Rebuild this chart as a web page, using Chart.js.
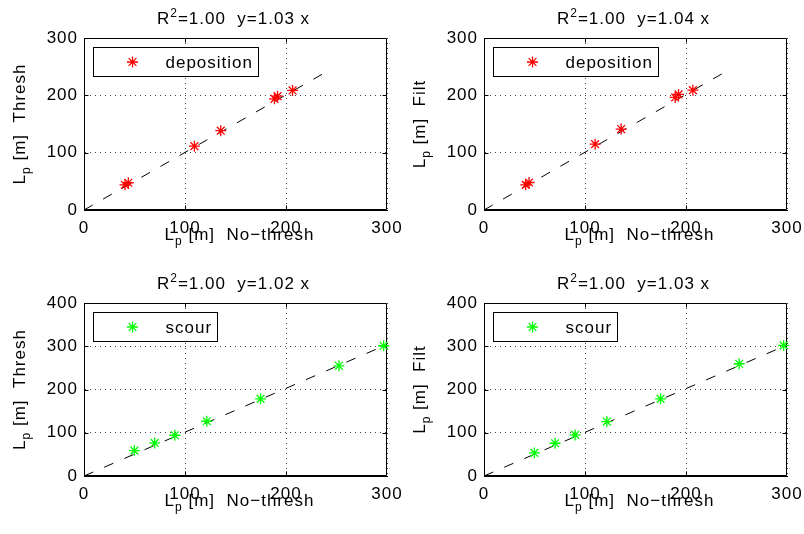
<!DOCTYPE html>
<html><head><meta charset="utf-8">
<script src="https://cdn.jsdelivr.net/npm/chart.js@4.4.1/dist/chart.umd.min.js"></script>
<style>
html,body{margin:0;padding:0;background:#fff;}
#wrap{position:relative;width:804px;height:534px;overflow:hidden;background:#fff;}
.cell{position:absolute;width:402px;height:267px;}
canvas{display:block;}
</style></head><body>
<div id="wrap">
<div class="cell" style="left:0;top:0"><canvas id="c1" width="402" height="267"></canvas></div>
<div class="cell" style="left:400px;top:0"><canvas id="c2" width="402" height="267"></canvas></div>
<div class="cell" style="left:0;top:267px"><canvas id="c3" width="402" height="267"></canvas></div>
<div class="cell" style="left:400px;top:267px"><canvas id="c4" width="402" height="267"></canvas></div>
</div>
<script>
// ---- data ----
const depThreshX = [40.6, 43.9, 109.3, 135.4, 188.6, 191.6, 206.5];
const depThreshY = [43.9, 47.5, 111.3, 138.3, 193.9, 198.6, 208.5];
const depFiltX   = [41.3, 44.6, 110.0, 135.8, 189.3, 192.6, 206.8];
const depFiltY   = [43.9, 48.0, 114.8, 141.2, 196.3, 201.5, 209.0];
const scourThreshX = [49.9, 70.0, 89.9, 121.6, 174.8, 252.4, 296.7];
const scourThreshY = [58.7, 76.4, 94.2, 126.6, 178.4, 254.8, 301.2];
const scourFiltX   = [49.9, 70.4, 90.2, 121.6, 174.8, 252.7, 296.7];
const scourFiltY   = [53.3, 75.7, 95.0, 125.9, 178.4, 259.5, 301.9];
// fit lines: start and end points [x0, y0, x1, y1]
const fitDepThresh   = [0, 0, 243, 244];
const fitDepFilt     = [0, 0, 243, 245];
const fitScourThresh = [0, 0, 300, 304];
const fitScourFilt   = [0, 0, 300, 303];
const titleTexts = ["=1.00  y=1.03 x", "=1.00  y=1.04 x", "=1.00  y=1.02 x", "=1.00  y=1.03 x"];
const yLabelSuffix = ["Thresh", "Filt", "Thresh", "Filt"];
const xLabelSuffix = "No\u2212thresh";
const seriesLabels = ["deposition", "deposition", "scour", "scour"];
const xTickMax = 300;
const yTickMaxTop = 300;
const yTickMaxBottom = 400;
const tickStep = 100;

const FONT = '"Liberation Sans", Arial, Helvetica, sans-serif';
const FS = 17;
const LS = '1px';

function setLS(ctx){ try { ctx.letterSpacing = LS; } catch(e){} }

function drawRich(ctx, parts, x, y, align) {
  let total = 0;
  for (const p of parts) { ctx.font = p.size + 'px ' + FONT; total += ctx.measureText(p.t).width; }
  let cx = align === 'center' ? x - total/2 : x;
  for (const p of parts) {
    ctx.font = p.size + 'px ' + FONT;
    ctx.fillText(p.t, cx, y + (p.dy||0));
    cx += ctx.measureText(p.t).width;
  }
}

function drawStar(ctx, mx, my, r) {
  ctx.beginPath();
  ctx.moveTo(mx, my - r); ctx.lineTo(mx, my + r);
  ctx.moveTo(mx - r, my); ctx.lineTo(mx + r, my);
  const d = r * Math.SQRT1_2;
  ctx.moveTo(mx - d, my - d); ctx.lineTo(mx + d, my + d);
  ctx.moveTo(mx - d, my + d); ctx.lineTo(mx + d, my - d);
  ctx.stroke();
}

const decorPlugin = {
  id: 'decor',
  beforeUpdate(chart){ setLS(chart.ctx); },
  beforeDraw(chart){ setLS(chart.ctx); },
  beforeDatasetsDraw(chart) {
    const ctx = chart.ctx, a = chart.chartArea;
    ctx.save();
    ctx.strokeStyle = '#000'; ctx.lineWidth = 1;
    const L = Math.round(a.left)+0.5, R = Math.round(a.right)-0.5, T = Math.round(a.top)+0.5, B = Math.round(a.bottom)-0.5;
    ctx.beginPath();
    ctx.rect(L, T, R-L, B-T);
    const tl = 4;
    for (const t of chart.scales.x.ticks) {
      if (t.value <= 0 || t.value >= chart.scales.x.max) continue;
      const px = Math.round(chart.scales.x.getPixelForValue(t.value)) + 0.5;
      ctx.moveTo(px, B); ctx.lineTo(px, B - tl);
      ctx.moveTo(px, T); ctx.lineTo(px, T + tl);
    }
    for (const t of chart.scales.y.ticks) {
      if (t.value <= 0 || t.value >= chart.scales.y.max) continue;
      const py = Math.round(chart.scales.y.getPixelForValue(t.value)) + 0.5;
      ctx.moveTo(L, py); ctx.lineTo(L + tl, py);
      ctx.moveTo(R, py); ctx.lineTo(R - tl, py);
    }
    ctx.stroke();
    ctx.restore();
  },
  afterDraw(chart) {
    const ctx = chart.ctx, a = chart.chartArea, o = chart.options.plugins.decor;
    ctx.save();
    setLS(ctx);
    ctx.fillStyle = '#000';
    ctx.textBaseline = 'alphabetic';
    const cx = (a.left + a.right)/2;
    // title
    drawRich(ctx, [{t:'R', size:FS}, {t:'2', size:12, dy:-7}, {t:o.title, size:FS}], cx - 2, a.top - 13.7, 'center');
    // x label
    drawRich(ctx, [{t:'L', size:FS}, {t:'p', size:12, dy:5}, {t:' [m]  ' + xLabelSuffix, size:FS}], cx + 4, a.bottom + 30, 'center');
    // y label
    ctx.save();
    ctx.translate(a.left - 59, (a.top + a.bottom)/2);
    ctx.rotate(-Math.PI/2);
    drawRich(ctx, [{t:'L', size:FS}, {t:'p', size:12, dy:5}, {t:' [m]  ' + o.ylab, size:FS}], 0, 0, 'center');
    ctx.restore();
    // legend
    const ds = chart.data.datasets[0];
    ctx.font = FS + 'px ' + FONT;
    const tw = ctx.measureText(ds.label).width;
    const bx = Math.round(a.left + 9) + 0.5, by = Math.round(a.top + 9) + 0.5;
    const bw = Math.round(72 + tw + 5), bh = 29;
    ctx.fillStyle = '#fff';
    ctx.fillRect(bx, by, bw, bh);
    ctx.strokeStyle = '#000'; ctx.lineWidth = 1;
    ctx.strokeRect(bx, by, bw, bh);
    ctx.strokeStyle = ds.borderColor;
    ctx.lineWidth = 1.3;
    drawStar(ctx, bx + 39, by + bh/2, 5.5);
    ctx.fillStyle = '#000';
    ctx.textBaseline = 'middle';
    ctx.fillText(ds.label, bx + 72, by + bh/2 + 1);
    ctx.restore();
  }
};

function makeChart(id, xs, ys, fit, label, color, yMax, top, xh, title, ylab) {
  const pts = xs.map((x, i) => ({x: x, y: ys[i]}));
  const axisCommon = {
    type: 'linear', min: 0,
    ticks: {stepSize: tickStep, color: '#000', font: {family: FONT, size: FS}},
    grid: {color: 'rgba(0,0,0,0.75)', lineWidth: 1, drawTicks: false},
    border: {display: true, color: '#000', width: 1, dash: [1, 4]}
  };
  return new Chart(document.getElementById(id), {
    type: 'scatter',
    data: {datasets: [
      {label: label, data: pts, pointStyle: 'star', pointRadius: 5.5, pointHoverRadius: 5.5,
       borderColor: color, backgroundColor: color, pointBorderWidth: 1.3, showLine: false, clip: false},
      {label: 'fit', data: [{x: fit[0], y: fit[1]}, {x: fit[2], y: fit[3]}], showLine: true,
       borderColor: '#000', borderWidth: 1, borderDash: [10, 12], pointRadius: 0, fill: false}
    ]},
    options: {
      responsive: false, animation: false, devicePixelRatio: 1,
      events: [],
      layout: {padding: {left: 0, top: top, right: 15, bottom: 0}},
      plugins: {legend: {display: false}, title: {display: false}, tooltip: {enabled: false},
                decor: {title: title, ylab: ylab}},
      scales: {
        x: Object.assign({}, axisCommon, {max: xTickMax, ticks: Object.assign({}, axisCommon.ticks, {padding: 8, maxRotation: 0}),
             afterFit: s => { s.height = xh; s.paddingLeft = 0; s.paddingRight = 0; }}),
        y: Object.assign({}, axisCommon, {max: yMax, ticks: Object.assign({}, axisCommon.ticks, {padding: 6}),
             afterFit: s => { s.width = 84; s.paddingTop = 0; s.paddingBottom = 0; }})
      }
    },
    plugins: [decorPlugin]
  });
}

makeChart('c1', depThreshX, depThreshY, fitDepThresh, seriesLabels[0], '#ff0000', yTickMaxTop, 38, 57, titleTexts[0], yLabelSuffix[0]);
makeChart('c2', depFiltX, depFiltY, fitDepFilt, seriesLabels[1], '#ff0000', yTickMaxTop, 38, 57, titleTexts[1], yLabelSuffix[1]);
makeChart('c3', scourThreshX, scourThreshY, fitScourThresh, seriesLabels[2], '#00ff00', yTickMaxBottom, 36, 58, titleTexts[2], yLabelSuffix[2]);
makeChart('c4', scourFiltX, scourFiltY, fitScourFilt, seriesLabels[3], '#00ff00', yTickMaxBottom, 36, 58, titleTexts[3], yLabelSuffix[3]);
</script>
</body></html>
